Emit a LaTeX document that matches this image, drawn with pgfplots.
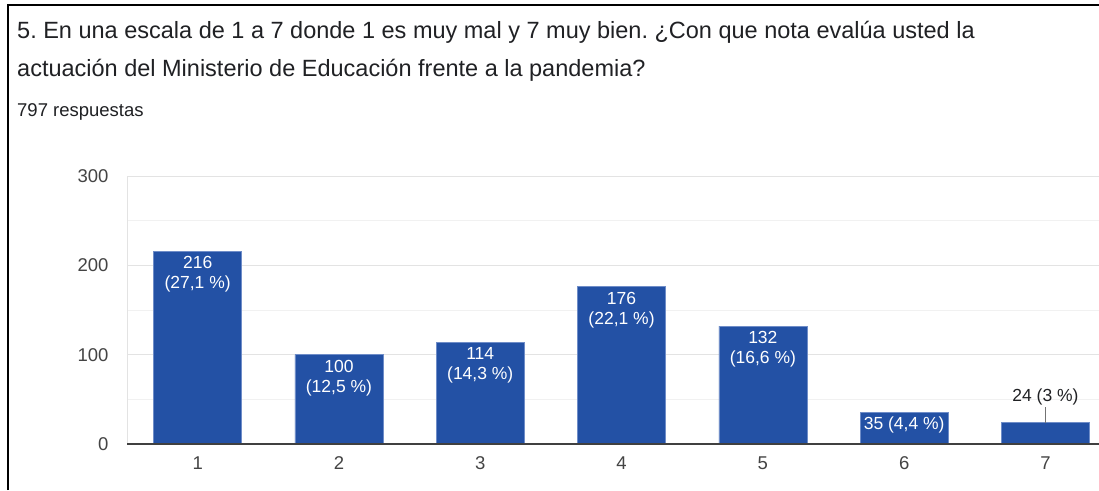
\documentclass[border=0pt]{standalone}
\usepackage{pgfplots}
\pgfplotsset{compat=1.18}
\usepackage{fontspec}
\setmainfont{Liberation Sans}
\frenchspacing
\definecolor{barblue}{HTML}{2351A5}
\definecolor{bardge}{HTML}{6F8DC8}
\definecolor{titlec}{HTML}{202124}
\definecolor{tickc}{HTML}{444444}
\definecolor{gridmaj}{HTML}{E3E3E3}
\definecolor{gridmin}{HTML}{F1F1F1}
\begin{document}
\begin{tikzpicture}[x=1pt,y=1pt]
\useasboundingbox (0,0) rectangle (1099,490);
\fill[white] (0,0) rectangle (1099,490);
% frame
\draw[black,line width=2.6pt] (8,0) -- (8,485) -- (1099,485);
% title
\node[anchor=base west,inner sep=0pt,text=titlec,font=\fontsize{23.5}{26}\selectfont] at (17,451) {5. En una escala de 1 a 7 donde 1 es muy mal y 7 muy bien. ¿Con que nota evalúa usted la};
\node[anchor=base west,inner sep=0pt,text=titlec,font=\fontsize{23.5}{26}\selectfont] at (17,413) {actuación del Ministerio de Educación frente a la pandemia?};
\node[anchor=base west,inner sep=0pt,text=titlec,font=\fontsize{18.5}{21}\selectfont] at (17,373) {797 respuestas};
\begin{axis}[
  at={(127pt,46pt)}, anchor=origin,
  scale only axis, width=972pt, height=268pt,
  xmin=0.5, xmax=7.379, ymin=0, ymax=300,
  axis line style={draw=none},
  ybar, bar width=88pt,
  xtick={1,...,7}, ytick={0,100,200,300},
  minor ytick={50,150,250},
  ymajorgrids, yminorgrids,
  major grid style={gridmaj,line width=1pt},
  minor grid style={gridmin,line width=1pt},
  major tick length=0pt, minor tick length=0pt,
  /pgf/number format/assume math mode=true,
  ticklabel style={font=\fontsize{18.5}{21}\selectfont,text=tickc},
  yticklabel style={xshift=-15pt},
  xticklabel style={yshift=-9pt},
  clip=false,
]
\draw[gridmaj,line width=1pt] (axis cs:0.5,0) -- (axis cs:0.5,300);
\addplot[fill=barblue,draw=bardge,line width=0.6pt] coordinates {(1,216) (2,100) (3,114) (4,176) (5,132) (6,35) (7,24)};
\draw[black!75,line width=1.5pt] (axis cs:0.5,0) -- (axis cs:7.379,0);
\tikzset{bl/.style={font=\fontsize{17.5}{20}\selectfont,text=white,align=center,anchor=north,inner sep=0pt}}
\node[bl] at ([yshift=-5pt]axis cs:1,216) {216\\(27,1 \%)};
\node[bl] at ([yshift=-5pt]axis cs:2,100) {100\\(12,5 \%)};
\node[bl] at ([yshift=-5pt]axis cs:3,114) {114\\(14,3 \%)};
\node[bl] at ([yshift=-5pt]axis cs:4,176) {176\\(22,1 \%)};
\node[bl] at ([yshift=-5pt]axis cs:5,132) {132\\(16,6 \%)};
\node[bl] at ([yshift=-4pt]axis cs:6,35) {35 (4,4 \%)};
\draw[black!55,line width=0.8pt] (axis cs:7,24) -- ([yshift=16pt]axis cs:7,24);
\node[font=\fontsize{17.5}{20}\selectfont,text=titlec,anchor=south,inner sep=0pt] at ([yshift=17pt]axis cs:7,24) {24 (3 \%)};
\end{axis}
\end{tikzpicture}
\end{document}
